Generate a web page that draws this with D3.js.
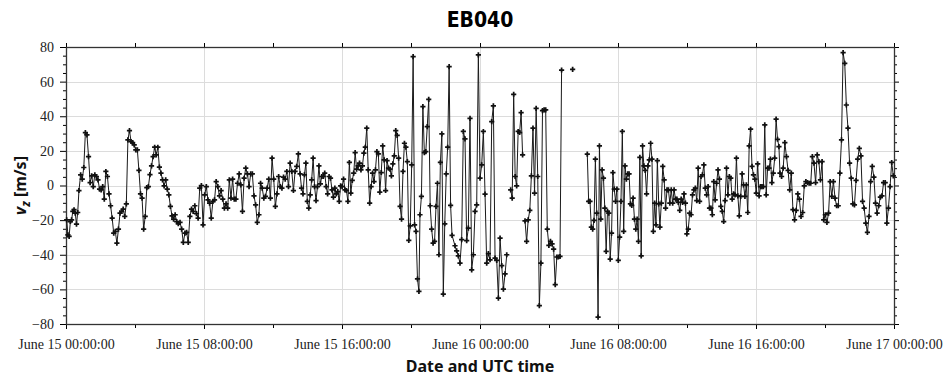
<!DOCTYPE html>
<html lang="en">
<head>
<meta charset="UTF-8">
<title>EB040</title>
<script src="https://cdn.jsdelivr.net/npm/d3@7"></script>
<style>
  body { margin: 0; background: #fff; }
  svg { display: block; }
</style>
</head>
<body>
<script>
const width = 943
const height = 378
const margin = {top: 47, right: 49, bottom: 54, left: 66}

// vertical speed v_z [m/s], hours after June 15 00:00 UTC
const vzA = [-19.8, -28.5, -29.4, -20.8, -19.8, -15, -14, -16, -22.3, -15.6, -2.9]
const vzB = [6.2, 3.7, 10.4, 30.6, 29.2, 16.7, 1.7, 5.6, -0.6, 6.2, 5.2, 3.3, -2.1, -2.5, -0.6, -7.9,
  8.1, 5.2, -4.8, -11.7, -18.8, -27.5, -26.5, -33.3, -25.2, -16, -15, -13.7, -17.9, -10.6, 26.3, 31.7,
  25.4, 24.8, 23.5, 20.6, 20.6, 8.7, -4.8, -7.3, -25.2, -17.9, -1.2, -0.6, 6.3, 11.3, 16.7, 22.1, 17.7,
  22.1, 10.6, 7.1, 3.3, -0.2, 3.3, -2.1, -5.4, -12.1, -17.5, -19.4, -16.9, -20.8, -22.1]
const vzC = [-21.3, -25.2, -32.9, -27.5, -27.1, -32.9, -17.9, -13.7, -15, -11.7, -16.3, -18.8, -1.5, 0,
  -22.7, -5.4, -0.6, -8.3, -10.2, -18.8, -9.2, -8.3, 2.3, -0.6, -6, -2.9, -7.9, -13.1, -10.6, -13.1, 3.3,
  -7.3, 3.7, -7.9, -7.9, 1.3, 6.7, 0.4, -15, 4.2, 10, 6.7, -0.6, 6.7, 6.7, -6, -11.2, -21.3, -16.9, 1.3,
  -1.5, -7.3, -6.3, -1.5, 3.7, -7.3, 15.8, 3.7, -12.1, -4.8, 5.2, -0.6, -1.5, 4.8, 3.7, 8.1, -0.6, 12.9,
  8.1, -2.9, 8.1, 11, 18.3]
const vzD = [6.7, -1.5, -4.8, 6.2, 12.9, -9.2, -13.1, -5.4, 3.3, 15.8, -0.6, -8.7, -0.6, 11.3, 1, 5.2,
  5.2, 7.1, -0.6, -4.8, 5.2, 4.2, -2.5, -6.7, -1.5, -4.8, -3.5, -9.2, -0.2, -0.6, 3.7, -2.5, -2.9, -9.2,
  13.3, -4.4, 2.9, 7.1, 19, 9.4, 11.3, 12.9, 9, 11.3, 18.7, 22.1, 33.1, 9, -10.2, -0.6, 7.1, 2.3, 9, 19.6,
  18.3, -3.8, 7.5, 22.9, 14.8, -2.9, 14.4, 10, 9.4, 5.6, 12.5, 17.1, 31.7, 29, 15.8, -12.1, -19.4, 8.1,
  24.4, 22.1, 13.8, -31.7, -23.3, 11.9, 74.4, -22.7, -26.5, -54, -61.2]
const vzE = [-16.9, -6.3, 45.6, 19, 19.6, 34, 49.8, -11.7, -25.2, -33.3, -32.3, -12.1, 1.3, -40, 13.3,
  29.8, -62.7, -22.1, 6.7, 22.1, 68.7, -11.5, -28.8]
const vzF = [-34.8, -37.7, -40.6, -44.8, -31.3, 31.2, 26.9, -31.9, -24.6, 38.8, -48.7, -40, -15, -11.2,
  75.4, 4.2, 11.9, 31.2, -5, -44.8, -39.4, -42.9, 36.9, 46, -41.9, -43.3, -65, -30.4, -46.3, -59.8, -51, -40]
const vzG = [-2.5, -7.3, 52.7, 5.2, -0.2, 31.2, 30.6, 42.1, 17.7]
const vzH = [-20.4, -32.3, -19.8, -14.4, 5.6, 33.1, -4.4, 44.6, 5.2, -69.4, -44.8, 43.3, 43.7, 43.7,
  -25.2, -34.6, -32.3, -33.7, -36.7, -57.3, -41.3, -41.3, -41, 66.7]
const vzI = [67.1]
const vzJ = [18.1, -9.2, -9.2, -24, -25.2, -20.2, 15.2, -16, -76, 22.9, -19.4, 9, 4.2, -13.1, -38.1, -15,
  -16, -42.5, -27.5, 7.5, -2.1, -9.2, -2.1, -43.3, -29.8, -9.2, 31.2, -26.5, 11.3, 3.7, 6.7, 6.7, -10.6,
  -11.5, -7.3, -19.4, -25.2, -19.4, -32.3, 16.3, -40.6, 22.9, 11.3, 8.7, -4.8, 11.3, 14.8, 24.4, 15.2,
  -26.5, -10.2, -22.7, 14.4, -10.6]
const vzK = [-24, -10.2, 11, 3.3, -13.1, -2.5, -2.5, -10.2, -2.5, -10.2, -2.5, -7.9, -7.9, -9.8, -14.4,
  -7.9, -9.8, -4.8, -10.2, -27.9, -25.2, -16, -16.9, -5.4, -2.5, -1.5, -8.7, 10, -9.2, 5.2, 6.2, 11.9,
  -1.5, -5.4, -0.6, -13.1, -13.1, -16.9, 2.3, -8.3, 1.3, 9, 3.7, -12.1, -15, -20.8, -8.7, 10, -5.4, 5.2,
  4.2, -7.9, -4.8, -5.4, 15.8, -6, -17.5, -6.3, 6.7, 0.4, -6.3, 0.4, -15.6, 22.9, 32.5, 11, 6.2, 3.7,
  -4.4, 12.5, -6, -0.6, -0.6, -0.6, 35, -5.4, 10, 10, 15.2, 1.7, 7.1, 15.8, 38.3, 26.7, 22.5]
const vzL = [7.1, 5.2, 10, 24.8, 16.7, 8.7, -2.5, 7.1, -14, -19.8, -14.4, -4.8, -7.9, -17.9, -15.6, -0.2,
  2.3, 1.7, 1.3, 1.3, 16.7, 12.9, 1.7, 17.7, 13.8, 3.3, 13.8, -19.8, -16.9, -21.3, -16, 2.3, -6.3, 2.3,
  -7.3, -11.7, -11.7, 7.1, 26.3, 76.7, 70.6, 46.5, 33.1, 12.9, 4.2, -10.6, -11.2, 2.9, 15.2, 21.5, 17.1,
  -9.2, -13.1, -21.7, -27.1, -17.9, 2.3, 11, 4.8, -10.2, -16, -11.7, -6.7, -6, 1.7, 1.7, -21.7, -13.1,
  -0.6, 13.3, 5.6]

// samples are evenly spread between from and to (hours); join = line continues from previous run
const runs = [
  {from: 0.04, to: 0.75, join: false, values: vzA},
  {from: 0.85, to: 6.51, join: true, values: vzB},
  {from: 6.61, to: 13.47, join: true, values: vzC},
  {from: 13.57, to: 20.46, join: true, values: vzD},
  {from: 20.52, to: 22.38, join: true, values: vzE},
  {from: 22.55, to: 25.55, join: true, values: vzF},
  {from: 25.78, to: 26.47, join: false, values: vzG},
  {from: 26.61, to: 28.73, join: false, values: vzH},
  {from: 29.37, to: 29.37, join: false, values: vzI},
  {from: 30.22, to: 34.36, join: false, values: vzJ},
  {from: 34.43, to: 41.33, join: true, values: vzK},
  {from: 41.39, to: 47.96, join: true, values: vzL}
]

const yTicks = [-80, -60, -40, -20, 0, 20, 40, 60, 80]

const t0 = Date.UTC(2021, 5, 15)
const hourToDate = h => new Date(t0 + h * 3600e3)

// flatten runs into one series, nulls mark the gaps
var series = []
runs.forEach(function (r) {
  if (!r.join && series.length) series.push({t: null, v: null})
  var n = r.values.length
  r.values.forEach(function (v, i) {
    var h = n > 1 ? r.from + (r.to - r.from) * i / (n - 1) : r.from
    series.push({t: hourToDate(h), v: v})
  })
})
var points = series.filter(d => d.v != null)

var svg = d3.select("body").append("svg")
  .attr("width", width)
  .attr("height", height)

var x = d3.scaleUtc()
  .domain([hourToDate(0), hourToDate(48)])
  .range([margin.left, width - margin.right])
var y = d3.scaleLinear()
  .domain([-80, 80])
  .range([height - margin.bottom, margin.top])

var major = d3.utcHour.every(8).range(hourToDate(0), hourToDate(48.01))
var minor = d3.utcHour.every(4).range(hourToDate(0), hourToDate(48.01))
  .filter(d => d.getUTCHours() % 8 !== 0)
var yMinor = d3.range(-80, 81, 5).filter(v => v % 20 !== 0)

var fmt = d3.utcFormat("%B %d %H:%M:%S")

// grid
svg.append("g").selectAll("line")
  .data(yTicks.slice(1, -1))
  .join("line")
  .attr("x1", margin.left).attr("x2", width - margin.right)
  .attr("y1", d => Math.round(y(d)) + 0.5).attr("y2", d => Math.round(y(d)) + 0.5)
  .attr("stroke", "#dcdcdc")
svg.append("g").selectAll("line")
  .data(major.slice(1, -1))
  .join("line")
  .attr("x1", d => Math.round(x(d)) + 0.5).attr("x2", d => Math.round(x(d)) + 0.5)
  .attr("y1", margin.top).attr("y2", height - margin.bottom)
  .attr("stroke", "#dcdcdc")

// axes, ticks point outward on all four sides
function styleAxis(g) {
  g.select(".domain").remove()
  g.selectAll("line").attr("stroke", "#000")
  g.selectAll("text")
    .attr("fill", "#222")
    .style("font-family", "'Liberation Serif', serif")
    .style("font-size", "14px")
}
var bottom = height - margin.bottom
var right = width - margin.right

svg.append("g").attr("transform", `translate(0,${bottom})`)
  .call(d3.axisBottom(x).tickValues(major).tickSize(5).tickPadding(10).tickFormat(fmt))
  .call(styleAxis)
svg.append("g").attr("transform", `translate(0,${bottom})`)
  .call(d3.axisBottom(x).tickValues(minor).tickSize(4).tickFormat(""))
  .call(styleAxis)
svg.append("g").attr("transform", `translate(0,${margin.top})`)
  .call(d3.axisTop(x).tickValues(minor.concat(major)).tickSize(4).tickFormat(""))
  .call(styleAxis)

svg.append("g").attr("transform", `translate(${margin.left},0)`)
  .call(d3.axisLeft(y).tickValues(yTicks).tickSize(6).tickPadding(6))
  .call(styleAxis)
svg.append("g").attr("transform", `translate(${margin.left},0)`)
  .call(d3.axisLeft(y).tickValues(yMinor).tickSize(3).tickFormat(""))
  .call(styleAxis)
svg.append("g").attr("transform", `translate(${right},0)`)
  .call(d3.axisRight(y).tickValues(yTicks).tickSize(5).tickFormat(""))
  .call(styleAxis)
svg.append("g").attr("transform", `translate(${right},0)`)
  .call(d3.axisRight(y).tickValues(yMinor).tickSize(3).tickFormat(""))
  .call(styleAxis)

// frame
svg.append("rect")
  .attr("x", margin.left + 0.5).attr("y", margin.top + 0.5)
  .attr("width", right - margin.left).attr("height", bottom - margin.top)
  .attr("fill", "none").attr("stroke", "#333").attr("stroke-width", 1.3)

// data line + markers
var line = d3.line()
  .defined(d => d.v != null)
  .x(d => x(d.t))
  .y(d => y(d.v))

svg.append("path")
  .datum(series)
  .attr("fill", "none")
  .attr("stroke", "#1a1a1a")
  .attr("stroke-width", 1)
  .attr("d", line)

var cross = d3.symbol().type(d3.symbolCross).size(15)
svg.append("g").selectAll("path")
  .data(points)
  .join("path")
  .attr("transform", d => `translate(${x(d.t)},${y(d.v)})`)
  .attr("d", cross)
  .attr("fill", "#111")

// title and labels
svg.append("text")
  .attr("x", (margin.left + right) / 2).attr("y", 27)
  .attr("text-anchor", "middle")
  .style("font-family", "'DejaVu Sans Condensed', 'DejaVu Sans', sans-serif")
  .style("font-weight", "bold")
  .style("font-size", "21px")
  .text("EB040")

svg.append("text")
  .attr("x", (margin.left + right) / 2).attr("y", 372)
  .attr("text-anchor", "middle")
  .style("font-family", "'Noto Sans', sans-serif")
  .style("font-weight", "bold")
  .style("font-size", "16px")
  .attr("fill", "#111")
  .text("Date and UTC time")

var ylab = svg.append("text")
  .attr("transform", `translate(26,${(margin.top + bottom) / 2}) rotate(-90)`)
  .attr("text-anchor", "middle")
  .style("font-family", "'Noto Sans', sans-serif")
  .style("font-weight", "bold")
  .style("font-size", "16px")
  .attr("fill", "#111")
ylab.append("tspan").style("font-style", "italic").text("v")
ylab.append("tspan").style("font-style", "italic").style("font-size", "12px")
  .attr("dy", 4).text("z")
ylab.append("tspan").attr("dy", -4).text(" [m/s]")
</script>
</body>
</html>
